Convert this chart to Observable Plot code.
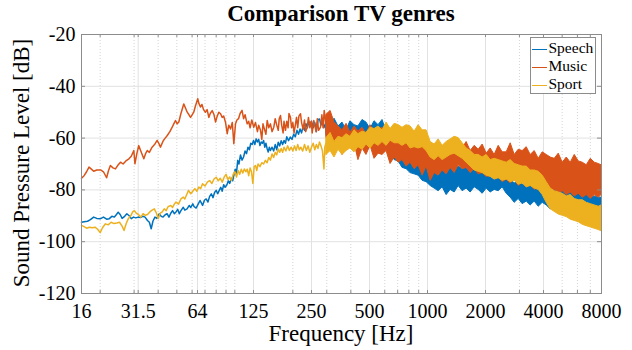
<!DOCTYPE html>
<html><head><meta charset="utf-8">
<script src="https://cdn.jsdelivr.net/npm/d3@7"></script>
<script src="https://cdn.jsdelivr.net/npm/@observablehq/plot@0.6"></script>
<style>
body{margin:0;background:#fff;}
#wrap{position:relative;width:632px;height:350px;overflow:hidden;font-family:"Liberation Serif","Times New Roman",serif;color:#000;background:#fff;}
#wrap svg{position:absolute;left:0;top:0;font-family:"Liberation Serif","Times New Roman",serif;}
.title{position:absolute;left:81px;width:520px;top:1px;text-align:center;font-weight:bold;font-size:23px;line-height:normal;white-space:nowrap;}
.xlabel{position:absolute;left:81px;width:520px;top:321px;text-align:center;font-size:23px;line-height:normal;white-space:nowrap;}
.ylabel{position:absolute;left:-128px;top:150px;width:300px;height:26px;line-height:26px;text-align:center;font-size:23px;transform:rotate(-90deg);white-space:nowrap;}
.legend{position:absolute;left:530px;top:37px;width:64px;border:1px solid #8c8c8c;background:#fff;padding-top:1px;}
.legend .row{height:18px;line-height:18px;font-size:15.5px;white-space:nowrap;padding-left:1px;}
.legend .sw{display:inline-block;width:15px;height:1.6px;vertical-align:middle;margin-right:1.5px;}
</style>
</head><body>
<div id="wrap">
  <div class="title">Comparison TV genres</div>
  <div class="xlabel">Frequency [Hz]</div>
  <div class="ylabel">Sound Pressure Level [dB]</div>
</div>
<script>
// ---- ticks ----
const xTicks = [16, 31.5, 64, 125, 250, 500, 1000, 2000, 4000, 8000];
const xMinor = [20, 30, 40, 50, 60, 70, 80, 90, 100, 200, 300, 400, 600, 700, 800, 900, 3000, 5000, 6000, 7000];
const yTicks = [-120, -100, -80, -60, -40, -20];

// ---- series names / colours ----
const seriesNames = ["Speech", "Music", "Sport"];
const seriesColors = ["#0072BD", "#D95319", "#EDB120"];

// ---- low-frequency lines [Hz, dB] ----
const speechLine = [[16.0,-92.5],[16.5,-92.3],[17.2,-92.1],[17.8,-91.5],[18.5,-90.5],[19.2,-91],[20.1,-91.1],[20.8,-90.5],[21.6,-91.3],[22.3,-91.1],[23.0,-90.2],[23.7,-90.5],[24.3,-89.5],[24.8,-88.6],[25.4,-89.5],[26.0,-91],[26.8,-90.2],[27.5,-89.2],[28.3,-90],[29.0,-91.1],[29.8,-90.5],[30.6,-90.8],[31.5,-90.5],[32.3,-90.7],[33.3,-90.2],[34.2,-90.5],[35.2,-91.8],[36.0,-92.5],[36.8,-95],[37.6,-92],[38.5,-90.5],[39.4,-91],[40.5,-89.2],[41.5,-90.2],[42.4,-90.5],[43.5,-89.6],[44.5,-89.2],[45.5,-90.5],[46.5,-89],[47.5,-88],[48.5,-89.2],[49.5,-88.5],[50.5,-87.5],[51.5,-89.2],[52.5,-88],[54,-86.7],[55,-87.8],[56.5,-87.3],[58,-86],[59,-86.8],[60.5,-85.4],[61.5,-86.5],[63,-87],[64.5,-85.5],[66,-84.1],[67,-85],[68,-86],[69.5,-84],[71,-83.5],[72.5,-84.7],[74,-82.5],[75.5,-81.5],[77,-83],[78.5,-81],[80,-80.2],[81.5,-81.5],[83,-80.2],[84.5,-79],[86,-80.5],[87.5,-78],[89,-79],[91,-78],[92.5,-76.5],[94,-77.5],[96,-75.5],[97.5,-76.5],[99,-74],[100.5,-72],[102,-73.5],[103.5,-68.6],[105,-70],[107,-66.5],[109,-68.5],[111,-67.3],[113,-65],[115,-66],[117,-63.5],[119,-64.5],[121,-62],[123,-62.5],[125,-60.9],[127,-62.5],[129,-60.3],[131,-61.5],[133,-60.5],[135,-62.9],[137,-61.5],[139,-62],[141,-60.9],[143,-63.5],[145,-62],[147,-64],[149,-65.4],[151,-63.5],[153,-64.8],[156,-63.5],[159,-65],[162,-62.5],[165,-64.5],[168,-61.6],[171,-63],[174,-61],[177,-62.5],[180,-60.9],[183,-62],[186,-59.5],[190,-61],[194,-59.6],[198,-60.5],[202,-58.5],[206,-59.5],[210,-57],[214,-58.5],[218,-56.5],[222,-58],[226,-55.5],[230,-57],[234,-54.5],[238,-56],[242,-53.5],[246,-55],[250,-53.5],[255,-56],[260,-54],[265,-57.5],[270,-53],[275,-52.6],[280,-55],[285,-53],[290,-56],[295,-54.5],[300,-57],[305,-56]];

const musicLine = [[16.0,-75.5],[16.5,-74.5],[17.0,-73],[17.5,-71.2],[18.0,-72],[18.5,-72.8],[19.2,-72.3],[20.1,-72.3],[20.8,-73],[21.6,-75.3],[22.1,-72.5],[22.6,-70.6],[23.3,-71.5],[24.0,-71.9],[24.7,-70.5],[25.5,-69.3],[26.3,-70],[27.2,-68.8],[28.2,-68],[29.0,-67],[29.9,-64.8],[30.3,-69.9],[31.0,-66],[31.7,-62.9],[32.5,-65],[33.7,-68],[34.4,-66],[35.1,-64.8],[36.0,-65.5],[37.2,-63.5],[38.3,-62.5],[39.5,-60.9],[40.3,-62],[41.1,-63.5],[42.5,-61],[43.5,-60],[44.6,-59],[46.0,-57.5],[47.3,-55.8],[48.2,-54.5],[49.2,-53.2],[50.2,-54.5],[51.2,-53.8],[52.5,-50.5],[53.5,-48.5],[54.3,-46.8],[55.5,-48.5],[56.6,-50],[57.8,-51],[58.9,-52],[60.0,-51],[61.2,-50],[62.5,-47.5],[64.2,-44.8],[65.0,-46.5],[66.3,-48],[67.5,-47],[68.8,-49],[70.4,-50],[71.8,-49],[73.3,-52],[74.5,-50.5],[76.3,-49.4],[78.0,-51],[79.4,-53.8],[81.0,-51.5],[82.6,-50],[84.3,-50.6],[86.0,-52],[87.5,-51.5],[89.5,-54],[91.3,-58.3],[93.0,-55],[95.0,-56.5],[97.0,-54],[98.8,-62.2],[100.8,-54.5],[102.5,-53],[104.5,-52.5],[106.5,-50.5],[109,-49.3],[111,-52.5],[113,-51],[115.9,-54.5],[118,-53.5],[120,-56],[122.5,-53],[125.4,-55.8],[128,-54],[131,-57.5],[133,-55],[135.9,-57],[138,-60.5],[140,-54.5],[143,-57],[145,-58.5],[147.2,-53.2],[150,-56],[153,-54.5],[156,-57.5],[159.3,-55.8],[162,-52.5],[165,-55],[168,-57],[170,-52.5],[172.6,-51.3],[175,-55],[178,-58],[180,-53.5],[183.2,-57],[186,-53.5],[189,-56],[191,-50.5],[194.4,-52],[197,-56],[200,-54],[203,-58],[206.5,-54.5],[209,-52],[212,-56],[215,-51.5],[219.2,-50.6],[222,-54],[226,-56.5],[230,-53],[233,-57.5],[237.4,-55.8],[241,-52],[245,-56],[249,-53.5],[252,-58],[256.9,-53.2],[260,-55],[264,-57.5],[268,-52.5],[272,-57],[278.4,-55.8],[283,-51],[287,-56],[291,-49.3],[295,-53],[299,-58],[304,-55],[308,-57]];

const sportLine = [[16.0,-93.7],[16.5,-94.2],[17.0,-94.8],[17.6,-94.4],[18.2,-94.6],[18.8,-94.4],[19.4,-95.2],[20.0,-96.5],[20.6,-94.5],[21.3,-93.1],[22.0,-93.5],[22.8,-92.5],[23.6,-93],[24.4,-92.8],[25.2,-92.5],[26.0,-94],[26.6,-95.7],[27.3,-93],[28.0,-91.1],[28.8,-90],[29.5,-88.5],[30.1,-88],[30.8,-89],[31.6,-89.5],[32.5,-90.5],[33.4,-89.2],[34.3,-89.8],[35.2,-89.5],[36.2,-88.5],[37.2,-87.8],[38.2,-87.3],[39.2,-89],[40.0,-91.1],[41,-89],[42,-88.5],[43,-87.3],[44,-88],[45,-86.5],[46.5,-86],[47.5,-86.8],[48.5,-85.5],[49.5,-84.7],[51,-85.5],[52.5,-83.5],[54,-82.8],[55,-83.5],[56.5,-81.5],[57.5,-80.2],[59,-81.5],[60.5,-80.5],[62,-79.5],[63.5,-80.5],[65,-78.9],[66.5,-79.5],[68,-77.6],[70,-78.5],[72,-77],[74,-76.4],[76,-77.5],[78,-75.8],[80,-75.1],[82,-76.5],[84,-75.5],[86,-77],[88,-75.1],[90,-74],[92,-76],[94,-75],[96,-76.4],[98,-74],[100,-73],[102,-75],[104,-72.5],[106,-74],[108,-72],[110,-73.5],[112,-71.9],[114,-73],[116,-72],[118,-74.5],[120,-71.5],[122,-73],[124,-77.5],[126,-71],[128,-70.6],[130,-72.5],[132,-70],[135,-71],[138,-69.5],[141,-70],[144,-68.6],[147,-69.5],[150,-67.5],[153,-68.5],[156,-66.1],[159,-67.5],[162,-65.5],[165,-66.5],[168,-64.2],[171,-65.5],[174,-64],[177,-65.5],[180,-63.5],[184,-65],[188,-63],[192,-64.8],[196,-63.5],[200,-65],[204,-63],[208,-64.8],[212,-62.5],[216,-64.5],[220,-63.5],[225,-65],[230,-62.5],[235,-64.8],[240,-63],[245,-65.5],[250,-63.5],[255,-62],[260,-64.5],[265,-62.5],[270,-64],[275,-61.5],[280,-63],[285,-65],[290,-71.9],[293,-63.5],[297,-62],[302,-64]];

// ---- dense high-frequency bands: frequency grid + lower/upper envelope (dB) ----
const bandFreq = [299,314,329,345,362,380,398,418,438,460,
  482,506,531,557,584,613,643,675,708,742,
  779,817,857,899,943,989,1038,1089,1142,1198,
  1257,1318,1383,1451,1522,1596,1674,1757,1843,1933,
  2028,2127,2231,2341,2455,2576,2702,2835,2973,3119,
  3272,3432,3601,3777,3962,4156,4360,4574,4798,5033,
  5280,5539,5810,6095,6394,6707,7036,7380,7742,8000];

const speechHi = [-53.5,-56,-52.5,-55.5,-54,-57,-53.5,-55,-55.5,-53,
  -54,-56.5,-53.5,-55,-53,-57.5,-60,-58,-61.5,-60.5,
  -62,-64,-63,-65.5,-67,-66.5,-68.5,-70,-68.5,-71,
  -71.5,-70,-72.5,-71,-72,-71.5,-73.5,-72,-73,-72.5,
  -74.5,-73,-74,-73.5,-75.5,-74,-76,-77.5,-76.5,-78,
  -77,-78.5,-78,-79.5,-78,-79,-80.5,-79.5,-81,-80.5,
  -81,-80.5,-82,-81.5,-82,-81.5,-83,-82.5,-83,-83];
const speechLo = [-59,-62.5,-60,-61.5,-63,-60.5,-62.5,-61.5,-60,-62.5,
  -61.5,-60,-63.5,-61,-60.5,-64.5,-66,-68.5,-69,-71.5,
  -72,-73.5,-74,-74.5,-76.5,-77,-78.5,-79.5,-80.5,-79,
  -82,-80,-81,-78.5,-80.5,-79.5,-81,-79,-80,-81.5,
  -79.5,-81,-80,-80.5,-79,-81.5,-83,-85,-83.5,-85.5,
  -84.5,-86,-84.5,-86.5,-85,-86,-87.5,-86,-87,-86.5,
  -87.5,-88,-86.5,-88.5,-87.5,-89,-87.5,-89,-88,-88.5];

const musicHi = [-51,-49.5,-54,-55.5,-57,-54.5,-58,-55.5,-57.5,-56,
  -58.5,-55,-57.5,-57,-56,-59.5,-57,-58.5,-59,-60.5,
  -58.5,-62,-60,-61.5,-62.5,-63.5,-63,-62.5,-66,-63.5,
  -65.5,-64.5,-63.5,-64.5,-64,-61.5,-65,-63,-64.5,-62.5,
  -66,-64,-66.5,-63,-65.5,-65.5,-62,-66.5,-64.5,-65,
  -63.5,-66.5,-65,-68,-65.5,-66.5,-67.5,-68,-66,-69.5,
  -67.5,-69.5,-66.5,-69,-69.5,-70.5,-68,-69.5,-70,-70.5];
const musicLo = [-60,-63,-64.5,-61.5,-66.5,-64,-63.5,-62,-68.5,-64,
  -66.5,-63,-68,-66,-66.5,-65,-70,-67.5,-69.5,-68.5,
  -71,-69.5,-72,-70.5,-74.5,-71,-76.5,-73.5,-74.5,-72.5,
  -74,-71.5,-73.5,-70.5,-72,-71.5,-73.5,-72,-74,-73.5,
  -75,-74.5,-76,-75,-77,-76,-77.5,-76,-78.5,-77,
  -79,-78,-80,-78.5,-80.5,-79,-81.5,-80,-81.5,-80.5,
  -82,-81,-82.5,-81.5,-83,-82,-83.5,-82,-83,-82];

const sportHi = [-60,-58,-61.5,-59.5,-60,-58.5,-59.5,-57,-58.5,-57.5,
  -58,-56,-56.5,-55.5,-57,-54,-56.5,-54.5,-55,-56,
  -55,-55.5,-57.5,-55,-57,-57,-61.5,-62.5,-60.5,-63,
  -61.5,-60.5,-59.5,-60,-62,-64,-65,-66.5,-66.5,-67.5,
  -66.5,-68.5,-68,-68.5,-69,-69.5,-68.5,-70,-70.5,-71,
  -71,-72.5,-72.5,-73,-74.5,-77,-79.5,-80.5,-81,-81.5,
  -82.5,-82,-83.5,-84,-84,-85,-85.5,-86,-86.5,-86];
const sportLo = [-66.5,-65,-67.5,-64.5,-66.5,-65,-64,-65.5,-63.5,-64.5,
  -62.5,-64,-62,-63,-61.5,-63,-61,-62,-62,-63,
  -62,-64,-63.5,-64,-63.5,-65,-67.5,-68.5,-67,-68.5,
  -67.5,-66.5,-66,-67,-68,-69.5,-71,-72.5,-73,-73.5,
  -74.5,-75,-76,-75.5,-76.5,-76,-77,-76.5,-78,-77.5,
  -79,-78.5,-79.5,-80,-82,-85,-87.5,-88.5,-89.5,-90,
  -90.5,-91.5,-92,-92.5,-93.5,-94,-94.5,-95,-95.5,-96];

// ---- assemble ----
const W = 632, H = 350, mT = 34, mR = 31, mB = 57, mL = 81;
const innerW = W - mL - mR, innerH = H - mT - mB;
const serif = "Liberation Serif";
const frameColor = "#8c8c8c";
const toRows = a => a.map(([f, v]) => ({f, v}));
const bandRows = (lo, hi) => bandFreq.map((f, i) => ({f, lo: lo[i], hi: hi[i]}));
const series = [
  {line: speechLine, lo: speechLo, hi: speechHi},
  {line: musicLine, lo: musicLo, hi: musicHi},
  {line: sportLine, lo: sportLo, hi: sportHi}
].map((s, i) => ({...s, color: seriesColors[i]}));
const allXTicks = [...xTicks, ...xMinor];

const chart = Plot.plot({
  width: W, height: H,
  marginTop: mT, marginRight: mR, marginBottom: mB, marginLeft: mL,
  style: {fontFamily: serif, fontSize: "20px", color: "#000", background: "transparent", overflow: "visible"},
  x: {type: "log", domain: [16, 8000], axis: null},
  y: {domain: [-120, -20], axis: null},
  marks: [
    Plot.gridX({ticks: xMinor, stroke: "#d4d4d4", strokeOpacity: 1, strokeDasharray: "1,2"}),
    Plot.gridX({ticks: xTicks, stroke: "#e2e2e2", strokeOpacity: 1}),
    Plot.gridY({ticks: yTicks, stroke: "#e2e2e2", strokeOpacity: 1}),
    ...series.flatMap(s => [
      Plot.areaY(bandRows(s.lo, s.hi), {x: "f", y1: "lo", y2: "hi", fill: s.color, fillOpacity: 1, stroke: s.color, strokeWidth: 1, curve: "linear"}),
      Plot.line(toRows(s.line), {x: "f", y: "v", stroke: s.color, strokeWidth: 1.5, curve: "linear"})
    ]),
    Plot.tickX(allXTicks, {x: d => d, stroke: frameColor, insetTop: innerH - 3}),
    Plot.tickX(allXTicks, {x: d => d, stroke: frameColor, insetBottom: innerH - 3}),
    Plot.tickY(yTicks, {y: d => d, stroke: frameColor, insetRight: innerW - 4}),
    Plot.tickY(yTicks, {y: d => d, stroke: frameColor, insetLeft: innerW - 4}),
    Plot.text(xTicks, {x: d => d, text: d => String(d), frameAnchor: "bottom", lineAnchor: "top", dy: 10, fontFamily: serif, fontSize: 20, fill: "#000"}),
    Plot.text(yTicks, {y: d => d, text: d => String(d), frameAnchor: "left", textAnchor: "end", dx: -6, fontFamily: serif, fontSize: 20, fill: "#000"}),
    Plot.frame({stroke: frameColor})
  ]
});
const wrap = document.getElementById("wrap");
wrap.insertBefore(chart, wrap.firstChild);

// legend
const legend = document.createElement("div");
legend.className = "legend";
seriesNames.forEach((name, i) => {
  const row = document.createElement("div");
  row.className = "row";
  const sw = document.createElement("span");
  sw.className = "sw";
  sw.style.background = seriesColors[i];
  row.appendChild(sw);
  row.appendChild(document.createTextNode(name));
  legend.appendChild(row);
});
wrap.appendChild(legend);
</script>
</body></html>
